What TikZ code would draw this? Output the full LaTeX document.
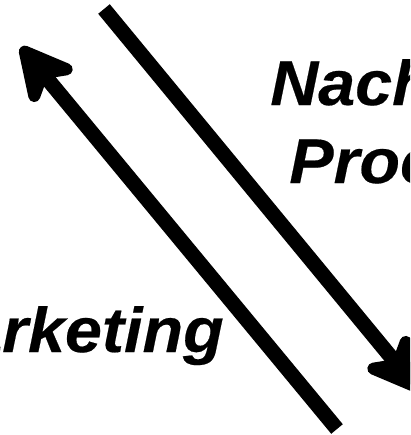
\documentclass[tikz,border=0pt]{standalone}
\usepackage{fontspec}
\setmainfont{Liberation Sans}
\newfontfamily\labelfont[FakeStretch=1.05, FakeBold=0.3]{Liberation Sans}
\usetikzlibrary{arrows.meta}

\begin{document}
\begin{tikzpicture}[x=0.025cm, y=-0.025cm,
    flow/.style={line width=0.375cm, -{Stealth[length=1.7cm, width=1.75cm, inset=0.5cm, line width=9pt, round]}},
    word/.style={font=\labelfont\fontsize{45}{56}\selectfont\bfseries\itshape, inner sep=0pt}]

\useasboundingbox (0,0) rectangle (410,435);
\clip (0,0) rectangle (410,435);

% arrows
\coordinate (downtail) at (104,9);
\coordinate (downtip) at (419,391);
\coordinate (uptail) at (337,429);
\coordinate (uptip) at (21,47);
\draw[flow] (downtail) -- (downtip);
\draw[flow] (uptail) -- (uptip);

% labels
\node[word, anchor=base west] (nach) at (270,105) {Nach};
\node[word, anchor=base west] (proc) at (289,183) {Proc};
\node[word, anchor=base east] (mkt) at (224,352) {arketing};

\end{tikzpicture}
\end{document}
